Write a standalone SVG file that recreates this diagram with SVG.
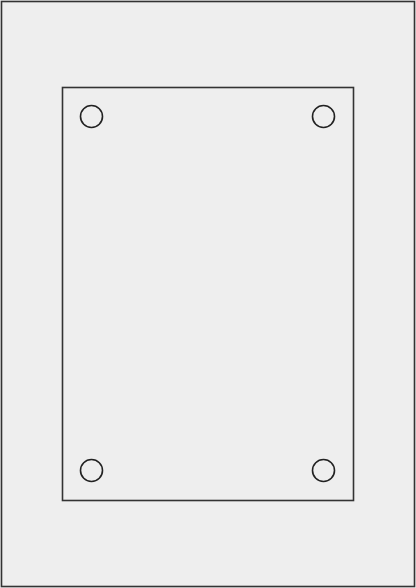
<svg xmlns="http://www.w3.org/2000/svg" width="416" height="588" viewBox="0 0 416 588">
<style>
.frame{fill:#eeeeee;stroke:#333333;stroke-width:1.6}
.hole{fill:none;stroke:#222222;stroke-width:1.6}
</style>
<rect width="416" height="588" fill="#eeeeee"/>
<g id="outer"><rect class="frame" x="1.5" y="1.5" width="413" height="585"/></g>
<g id="plate"><rect class="frame" x="62.5" y="87.5" width="291" height="413"/></g>
<g id="holes">
<circle class="hole" cx="91.5" cy="116.5" r="11"/>
<circle class="hole" cx="323.5" cy="116.5" r="11"/>
<circle class="hole" cx="91.5" cy="470.5" r="11"/>
<circle class="hole" cx="323.5" cy="470.5" r="11"/>
</g>
<g id="connectors"/>
</svg>
